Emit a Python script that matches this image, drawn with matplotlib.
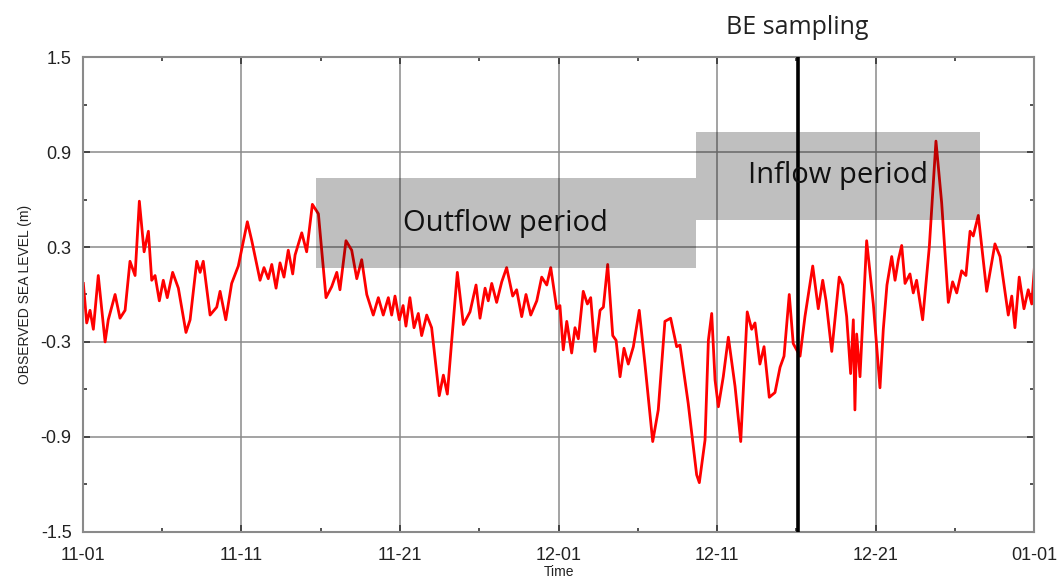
"""Observed sea level, Nov-Dec, with outflow/inflow periods and BE sampling marker."""

import matplotlib

matplotlib.use("Agg")
import matplotlib.pyplot as plt
from matplotlib.patches import Rectangle
from matplotlib.ticker import MultipleLocator

plt.rcParams["font.family"] = ["Liberation Sans", "DejaVu Sans"]

# time in days since 11-01 00:00, sea level in metres
DAYS = [
    0.04, 0.25, 0.46, 0.67, 0.98, 1.41, 1.61, 2.04, 2.35, 2.67, 2.98, 3.30, 3.57, 3.87, 4.14,
    4.35, 4.56, 4.83, 5.08, 5.33, 5.67, 6.03, 6.51, 6.77, 7.19, 7.40, 7.60, 8.03, 8.45, 8.66,
    9.02, 9.39, 9.81, 10.38, 10.66, 11.18, 11.43, 11.70, 11.92, 12.19, 12.44, 12.69, 12.96,
    13.24, 13.39, 13.81, 14.12, 14.48, 14.86, 15.34, 15.70, 16.02, 16.22, 16.60, 16.96, 17.28,
    17.59, 17.91, 18.32, 18.64, 18.95, 19.27, 19.48, 19.69, 19.96, 20.20, 20.38, 20.63, 20.89,
    21.16, 21.37, 21.69, 22.00, 22.48, 22.74, 22.99, 23.62, 24.00, 24.42, 24.80, 25.05, 25.37,
    25.57, 25.79, 26.10, 26.42, 26.73, 27.11, 27.36, 27.68, 27.95, 28.25, 28.63, 28.94, 29.26,
    29.51, 29.89, 30.09, 30.30, 30.52, 30.83, 31.04, 31.25, 31.56, 31.82, 32.03, 32.30, 32.62,
    32.83, 33.10, 33.42, 33.63, 33.88, 34.13, 34.40, 34.72, 35.09, 35.45, 35.94, 36.29, 36.71,
    37.07, 37.45, 37.66, 38.18, 38.71, 38.88, 39.24, 39.45, 39.66, 39.87, 40.08, 40.39, 40.71,
    41.13, 41.49, 41.90, 42.18, 42.39, 42.70, 42.96, 43.29, 43.65, 43.97, 44.22, 44.55, 44.80,
    45.23, 45.54, 46.03, 46.38, 46.66, 46.87, 47.23, 47.70, 47.92, 48.17, 48.42, 48.59, 48.69,
    48.80, 49.01, 49.43, 49.85, 50.27, 50.48, 50.71, 51.01, 51.22, 51.43, 51.64, 51.85, 52.16,
    52.37, 52.58, 52.96, 53.38, 53.80, 54.16, 54.58, 54.85, 55.11, 55.42, 55.69, 55.95, 56.15,
    56.47, 57.00, 57.52, 57.84, 58.36, 58.58, 58.78, 59.05, 59.35, 59.62, 59.84, 60.00,
]
SEA_LEVEL = [
    0.07, -0.18, -0.10, -0.22, 0.12, -0.30, -0.16, 0.00, -0.15, -0.10, 0.21, 0.12, 0.59, 0.27, 0.40,
    0.09, 0.12, -0.04, 0.09, -0.02, 0.14, 0.04, -0.24, -0.16, 0.21, 0.14, 0.21, -0.13, -0.08, 0.02,
    -0.16, 0.07, 0.18, 0.46, 0.34, 0.09, 0.17, 0.10, 0.19, 0.04, 0.20, 0.11, 0.28,
    0.13, 0.25, 0.39, 0.27, 0.57, 0.51, -0.02, 0.05, 0.14, 0.03, 0.34, 0.28, 0.10,
    0.22, 0.00, -0.13, -0.02, -0.13, -0.02, -0.13, -0.01, -0.16, -0.07, -0.20, -0.02, -0.21,
    -0.12, -0.26, -0.13, -0.21, -0.64, -0.51, -0.63, 0.14, -0.19, -0.11, 0.06, -0.15, 0.04,
    -0.04, 0.07, -0.05, 0.08, 0.17, -0.01, 0.03, -0.14, 0.00, -0.13, -0.04, 0.11, 0.06,
    0.17, -0.09, -0.07, -0.35, -0.17, -0.37, -0.21, -0.28, 0.02, -0.06, -0.02, -0.36, -0.10,
    -0.08, 0.19, -0.26, -0.29, -0.52, -0.34, -0.44, -0.33, -0.10, -0.44, -0.93, -0.73, -0.17,
    -0.15, -0.33, -0.32, -0.69, -1.14, -1.19, -0.92, -0.29, -0.12, -0.54, -0.71, -0.52, -0.27,
    -0.58, -0.93, -0.11, -0.22, -0.18, -0.44, -0.33, -0.65, -0.62, -0.46, -0.39, 0.00, -0.31,
    -0.39, -0.14, 0.18, -0.09, 0.09, -0.04, -0.36, 0.11, 0.06, -0.14, -0.50, -0.16, -0.73,
    -0.25, -0.52, 0.34, -0.06, -0.59, -0.22, 0.06, 0.24, 0.09, 0.22, 0.31, 0.07, 0.13,
    0.01, 0.09, -0.16, 0.30, 0.97, 0.58, -0.05, 0.08, 0.01, 0.15, 0.12, 0.40, 0.37,
    0.50, 0.02, 0.32, 0.24, -0.13, -0.01, -0.21, 0.11, -0.09, 0.03, -0.06, 0.16,
]

TICK_DAYS = [0, 10, 20, 30, 40, 50, 60]
TICK_LABELS = ["11-01", "11-11", "11-21", "12-01", "12-11", "12-21", "01-01"]
Y_TICKS = [-1.5, -0.9, -0.3, 0.3, 0.9, 1.5]

# shaded periods
PERIOD_NAMES = ["Outflow period", "Inflow period"]
PERIOD_START = [14.7, 38.65]
PERIOD_END = [38.65, 56.6]
PERIOD_LOW = [0.165, 0.47]
PERIOD_HIGH = [0.735, 1.03]

BE_DAY = 45.08

fig = plt.figure(figsize=(10.62, 5.86), dpi=100)
ax = fig.add_axes([0.0779, 0.0927, 0.896, 0.8095])

ax.plot(DAYS, SEA_LEVEL, color="#ff0000", linewidth=2.0, zorder=2)

for name, x0, x1, lo, hi in zip(PERIOD_NAMES, PERIOD_START, PERIOD_END, PERIOD_LOW, PERIOD_HIGH):
    ax.add_patch(Rectangle((x0, lo), x1 - x0, hi - lo, facecolor="black", alpha=0.25,
                           edgecolor="none", zorder=3))
    ax.text((x0 + x1) / 2, (lo + hi) / 2, name, ha="center", va="center", fontsize=21,
            family="Open Sans", color="#111111", zorder=5)

ax.axvline(BE_DAY, color="black", linewidth=2.6, zorder=4)
ax.text(BE_DAY, 1.69, "BE sampling", ha="center", va="center", fontsize=18,
        family="Open Sans", color="#222222", clip_on=False)

ax.set_xlim(0, 60)
ax.set_ylim(-1.5, 1.5)
ax.set_xticks(TICK_DAYS)
ax.set_xticklabels(TICK_LABELS)
ax.xaxis.set_minor_locator(MultipleLocator(5))
ax.yaxis.set_minor_locator(MultipleLocator(0.3))
ax.set_yticks(Y_TICKS)
ax.set_yticklabels([f"{v:.1f}" for v in Y_TICKS])

ax.tick_params(which="both", direction="in", top=True, right=True, color="#333333")
ax.tick_params(which="major", length=5, width=1.2, labelsize=13, labelcolor="#222222")
ax.tick_params(axis="x", which="major", pad=11)
ax.tick_params(axis="y", which="major", pad=8)
ax.tick_params(which="minor", length=3, width=1.2)
ax.grid(which="major", color="#8a8a8a", linewidth=1.1, zorder=0)
ax.set_axisbelow(True)
for side in ax.spines.values():
    side.set_color("#8a8a8a")
    side.set_linewidth(1.5)

ax.set_ylabel("OBSERVED SEA LEVEL (m)", fontsize=10, color="#222222", labelpad=6)
ax.set_xlabel("Time", fontsize=10, color="#222222", labelpad=1)

fig.savefig("out.png", dpi=100)
